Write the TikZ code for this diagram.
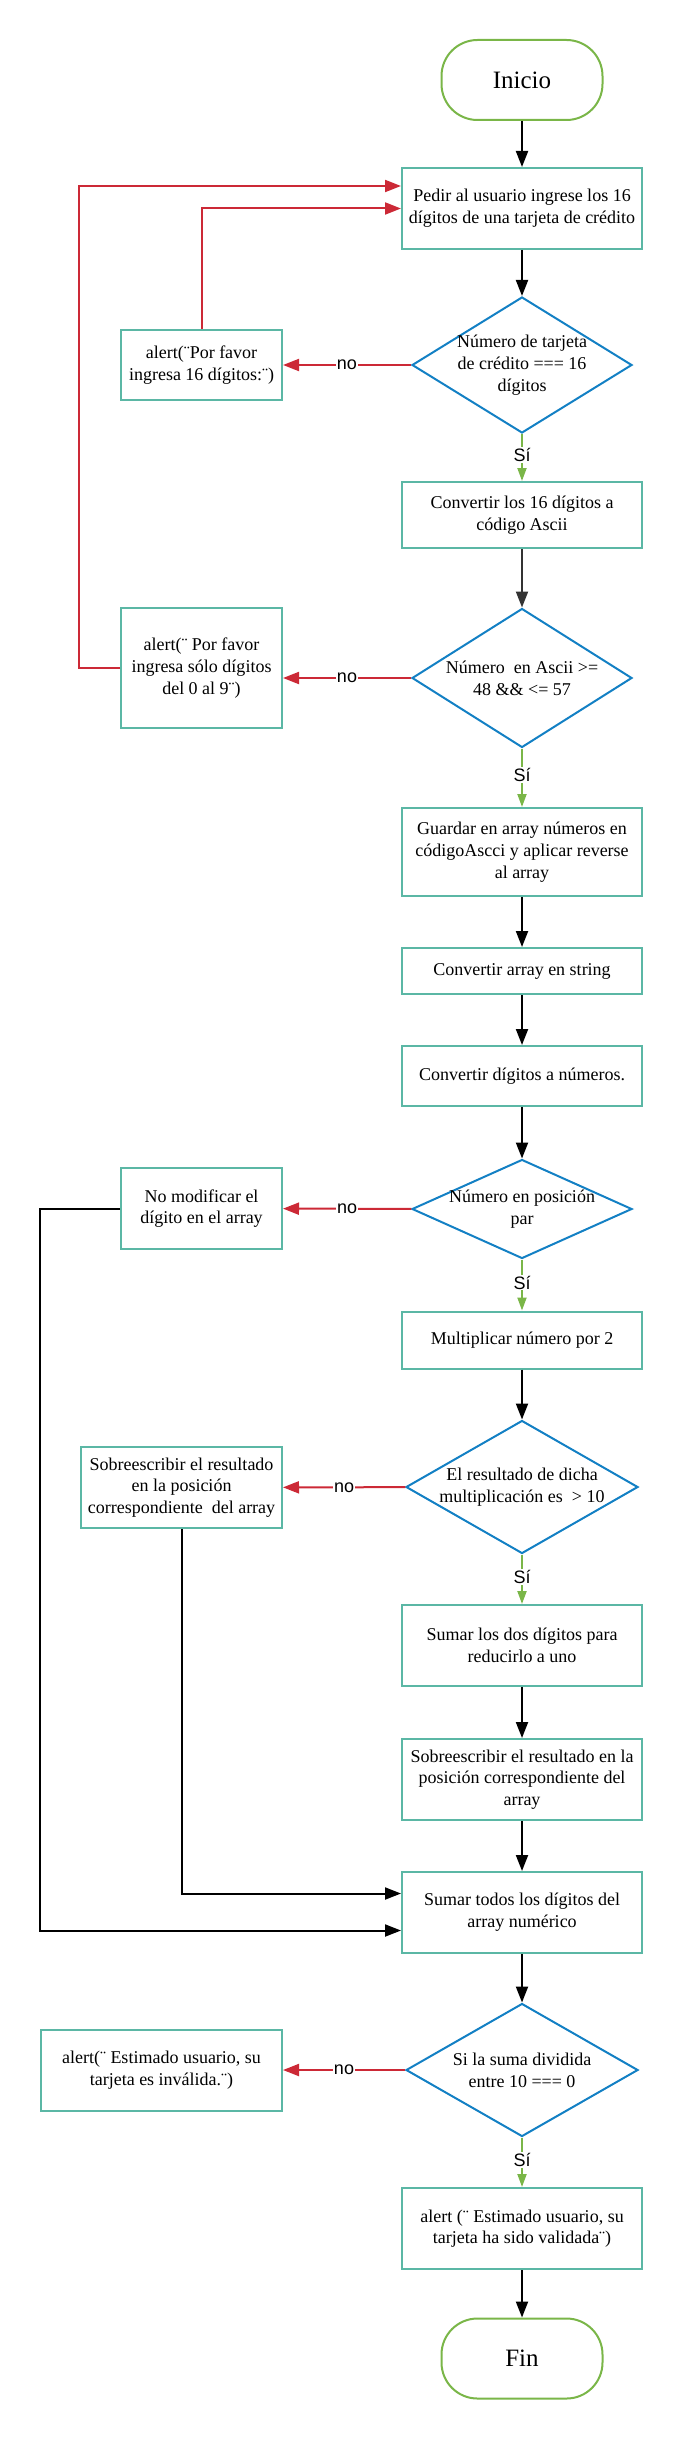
\documentclass[tikz,border=0pt]{standalone}
\usepackage{fontspec}
\setmainfont{Liberation Serif}
\setsansfont{Liberation Sans}
\usepackage{tikz}
\usetikzlibrary{shapes.geometric}
\usetikzlibrary{arrows,arrows.meta}
\definecolor{turquoise}{RGB}{91,183,165}
\definecolor{cerulean}{RGB}{19,128,196}
\definecolor{crimson}{RGB}{204,41,54}
\definecolor{leafgreen}{RGB}{122,182,72}
\colorlet{flecha}{black}

\begin{document}
\begin{tikzpicture}[x=1pt, y=-1pt, line width=2pt,
    font=\fontsize{18}{21.7}\selectfont,
    terminal/.style={draw=leafgreen, rounded corners=36pt, minimum width=161pt, minimum height=80pt, font=\fontsize{25}{30}\selectfont},
    proceso/.style={draw=turquoise, minimum width=240pt, align=center},
    aviso/.style={draw=turquoise, minimum width=161pt, align=center},
    decision/.style={draw=cerulean, diamond, minimum width=220pt, minimum height=136pt, inner sep=0pt},
    flujo/.style={flecha, -{Triangle[length=16pt,width=12pt]}},
    rechazo/.style={crimson, -{Triangle[length=16pt,width=12pt]}},
    acepta/.style={leafgreen, -{Triangle[length=13pt,width=9pt]}},
    etiqueta/.style={fill=white, text=black, inner sep=1pt, font=\sffamily\fontsize{18}{20}\selectfont}]

    \useasboundingbox (0,0) rectangle (681,2440);

    % columna principal
    \node[terminal] (inicio) at (522,80) {Inicio};
    \node[proceso, minimum height=81pt] (pedir) at (522,208.5) {Pedir al usuario ingrese los 16\\dígitos de una tarjeta de crédito};
    \node[decision] (d1) at (522,365) {};
    \node[align=center] (d1texto) at (d1) {Número de tarjeta\\de crédito === 16\\dígitos};
    \node[proceso, minimum height=66pt] (ascii) at (522,515) {Convertir los 16 dígitos a\\código Ascii};
    \node[decision, minimum height=139pt] (d2) at (522,678) {};
    \node[align=center] (d2texto) at (d2) {Número~ en Ascii >=\\48 \&\& <= 57};
    \node[proceso, minimum height=88pt] (guardar) at (522,852) {Guardar en array números en\\códigoAscci y aplicar reverse\\al array};
    \node[proceso, minimum height=46pt] (string) at (522,971) {Convertir array en string};
    \node[proceso, minimum height=60pt] (numeros) at (522,1076) {Convertir dígitos a números.};
    \node[decision, minimum height=99pt] (d3) at (522,1209) {};
    \node[align=center] (d3texto) at (d3) {Número en posición\\par};
    \node[proceso, minimum height=57pt] (multiplicar) at (522,1340) {Multiplicar número por 2};
    \node[decision, minimum width=232pt, minimum height=133pt] (d4) at (522,1487) {};
    \node[align=center] (d4texto) at (d4) {El resultado de dicha\\multiplicación es~ > 10};
    \node[proceso, minimum height=81pt] (sumardos) at (522,1645.5) {Sumar los dos dígitos para\\reducirlo a uno};
    \node[proceso, minimum height=81pt] (sobre) at (522,1779.5) {Sobreescribir el resultado en la\\posición correspondiente del\\array};
    \node[proceso, minimum height=81pt] (todos) at (522,1912.5) {Sumar todos los dígitos del\\array numérico};
    \node[decision, minimum width=232pt, minimum height=133pt] (d5) at (522,2070) {};
    \node[align=center] (d5texto) at (d5) {Si la suma dividida\\entre 10 === 0};
    \node[proceso, minimum height=81pt] (valida) at (522,2228.5) {alert (¨ Estimado usuario, su\\tarjeta ha sido validada¨)};
    \node[terminal] (fin) at (522,2358.5) {Fin};

    % avisos a la izquierda
    \node[aviso, minimum height=70pt] (alerta1) at (201.5,365) {alert(¨Por favor\\ingresa 16 dígitos:¨)};
    \node[aviso, minimum height=120pt] (alerta2) at (201.5,668) {alert(¨ Por favor\\ingresa sólo dígitos\\del 0 al 9¨)};
    \node[aviso, minimum height=81pt] (alerta3) at (201.5,1208.5) {No modificar el\\dígito en el array};
    \node[aviso, minimum width=201pt, minimum height=81pt] (alerta4) at (181.5,1487.5) {Sobreescribir el resultado\\en la posición\\correspondiente~ del array};
    \node[aviso, minimum width=241pt, minimum height=81pt] (alerta5) at (161.5,2070) {alert(¨ Estimado usuario, su\\tarjeta es inválida.¨)};

    % flujo principal
    \draw[flujo] (inicio) -- (pedir);
    \draw[flujo] (pedir) -- (d1);
    \draw[acepta] (d1) -- node[etiqueta, pos=0.45] {Sí} (ascii);
    \draw[flujo, black!80] (ascii) -- (d2);
    \draw[acepta] (d2) -- node[etiqueta, pos=0.45] {Sí} (guardar);
    \draw[flujo] (guardar) -- (string);
    \draw[flujo] (string) -- (numeros);
    \draw[flujo] (numeros) -- (d3);
    \draw[acepta] (d3) -- node[etiqueta, pos=0.45] {Sí} (multiplicar);
    \draw[flujo] (multiplicar) -- (d4);
    \draw[acepta] (d4) -- node[etiqueta, pos=0.45] {Sí} (sumardos);
    \draw[flujo] (sumardos) -- (sobre);
    \draw[flujo] (sobre) -- (todos);
    \draw[flujo] (todos) -- (d5);
    \draw[acepta] (d5) -- node[etiqueta, pos=0.45] {Sí} (valida);
    \draw[flujo] (valida) -- (fin);

    % ramas "no"
    \draw[rechazo] (d1) -- node[etiqueta] {no} (alerta1);
    \draw[rechazo] (d2.west) -- node[etiqueta] {no} (d2.west -| alerta2.east);
    \draw[rechazo] (d3) -- node[etiqueta] {no} (alerta3);
    \draw[rechazo] (d4) -- node[etiqueta] {no} (alerta4);
    \draw[rechazo] (d5) -- node[etiqueta] {no} (alerta5);

    % vueltas
    \draw[rechazo] (alerta1.north) |- (pedir.west);
    \draw[rechazo] (alerta2.west) -- ++(-41,0) |- ([yshift=22.5pt]pedir.west);
    \draw[flujo] (alerta3.west) -- ++(-80,0) |- ([yshift=-18pt]todos.west);
    \draw[flujo] (alerta4.south) |- ([yshift=19pt]todos.west);

\end{tikzpicture}
\end{document}
